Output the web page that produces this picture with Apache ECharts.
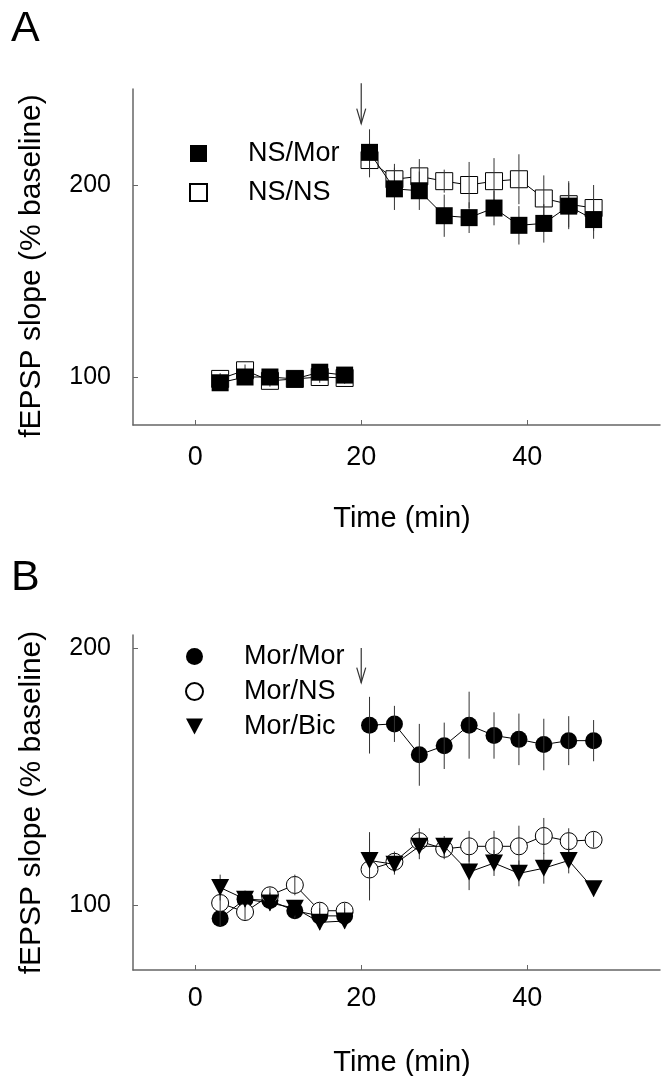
<!DOCTYPE html>
<html><head><meta charset="utf-8">
<script src="https://cdn.jsdelivr.net/npm/echarts@6/dist/echarts.min.js"></script>
<style>html,body{margin:0;padding:0;background:#fff}#c{width:666px;height:1076px}</style>
</head><body><div id="c"></div>
<script>
// ---- data ----
const timeA = [3,6,9,12,15,18,21,24,27,30,33,36,39,42,45,48];
const nsMor    = [97,100,100,99,102.5,101,217,198,197,184,183,188,179,180,189,182];
const nsMorErr = [3,3,3,3,3,3,12,11,10,11,8,9,10,10,12,10];
const nsNs     = [99,103.5,98,99,100,99.5,213,203,204.5,202,200,202,203,193,190,188];
const nsNsErr  = [3,3,3,3,3,3,9,8,9,6,12,12,13,12,12,12];

const timeB = [3,6,9,12,15,18,21,24,27,30,33,36,39,42,45,48];
const morMor    = [95,102.5,102,98,96,96,170,170.5,158.5,162,170,166,164.5,162.5,164,164];
const morMorErr = [3,3,3,3,3,3,11,7,12,9,13,9,10,10,9.5,8];
const morNs     = [101,97.5,104,108,98,98,114,117,125,122,123,123,123,127,125,125.5];
const morNsErr  = [4,3,3,4,3,3,12,4,5,4,6,6,8,7,5,3];
const morBic    = [107,102.5,101,99,93.5,94,117.5,116,123,123,113,116.5,112.5,114.5,117.5,106.5];
const morBicErr = [5,3,3,3,3,3,11,4,5,4,7,5,5,6,5,3];

const xTicks = [0,20,40];
const yTicks = [100,200];
const arrowX = [20];
const arrowA = [253, 232];   // top, tip
const arrowB = [200, 186.5];
const breakAfter = 18;       // no line between baseline and post-treatment

// ---- helpers ----
const FONT = 'Liberation Sans, Arial, Helvetica, sans-serif';
const downTri = 'path://M0,0 L10,0 L5,9.4 Z';

function pts(xs, ys){
  const out = [];
  xs.forEach((x,i)=>{
    out.push([x, ys[i]]);
    if (x === breakAfter) out.push([x+1.5, '-']);
  });
  return out;
}
function lineSeries(name, xs, ys, gi, symbol, filled, z){
  return {
    type:'line', name, xAxisIndex:gi, yAxisIndex:gi, z,
    data: pts(xs, ys), connectNulls:false,
    symbol, symbolSize: symbol==='circle'?17:(symbol==='rect'?17:[18,17]),
    showAllSymbol:true, animation:false,
    lineStyle:{color:'#000', width:1},
    itemStyle:{color: filled?'#000':'#fff', borderColor:'#000', borderWidth: filled?0:1},
    emphasis:{disabled:true}
  };
}
function errSeries(xs, ys, es, gi, z){
  return {
    type:'custom', xAxisIndex:gi, yAxisIndex:gi, z, silent:true, animation:false,
    data: xs.map((x,i)=>[x, ys[i], es[i]]),
    renderItem:(p, api)=>{
      const x=api.value(0), y=api.value(1), e=api.value(2);
      const a=api.coord([x,y-e]), b=api.coord([x,y+e]);
      return {type:'line', shape:{x1:a[0],y1:a[1],x2:b[0],y2:b[1]}, style:{stroke:'#333', lineWidth:1}};
    }
  };
}
function arrowSeries(top, tip, gi){
  return {
    type:'custom', xAxisIndex:gi, yAxisIndex:gi, z:10, silent:true, clip:false, animation:false,
    data: arrowX.map(x=>[x, top, tip]),
    renderItem:(p, api)=>{
      const x=api.value(0);
      const a=api.coord([x, api.value(1)]), b=api.coord([x, api.value(2)]);
      const st={stroke:'#333', lineWidth:1.2, fill:null};
      return {type:'group', children:[
        {type:'line', shape:{x1:a[0],y1:a[1],x2:b[0],y2:b[1]}, style:st},
        {type:'polyline', shape:{points:[[b[0]-4.5,b[1]-15],[b[0],b[1]],[b[0]+4.5,b[1]-15]]}, style:st}
      ]};
    }
  };
}
const axLine = {show:true, onZero:false, lineStyle:{color:'#666', width:1.5}};
function xAxisCfg(gi, gap, margin){
  return {type:'value', gridIndex:gi, min:-7.5, max:56,
    name:'Time (min)', nameLocation:'middle', nameGap:gap,
    nameTextStyle:{fontSize:29, color:'#000', fontFamily:FONT, padding:[0,0,0,11]},
    axisLine:axLine,
    axisTick:{show:true, inside:true, length:5, customValues:xTicks, lineStyle:{color:'#666'}},
    axisLabel:{show:true, customValues:xTicks, fontSize:27, color:'#000', fontFamily:FONT, margin},
    splitLine:{show:false}};
}
function yAxisCfg(gi, max, pad){
  return {type:'value', gridIndex:gi, min:75, max,
    name:'fEPSP slope (% baseline)', nameLocation:'middle', nameGap:86, nameRotate:90,
    nameTextStyle:{fontSize:30, color:'#000', fontFamily:FONT, padding:pad},
    axisLine:axLine,
    axisTick:{show:true, inside:true, length:5, customValues:yTicks, lineStyle:{color:'#666'}},
    axisLabel:{show:true, customValues:yTicks, fontSize:25, color:'#000', fontFamily:FONT, margin:22},
    splitLine:{show:false}};
}
const legendText = {fontSize:27, color:'#000', fontFamily:FONT, padding:[0,0,0,36]};

const chart = echarts.init(document.getElementById('c'), null, {renderer:'canvas'});
chart.setOption({
  backgroundColor:'#fff',
  animation:false,
  title:[
    {text:'A', left:6, top:3, textStyle:{fontSize:43, fontWeight:'normal', color:'#000', fontFamily:FONT}},
    {text:'B', left:6, top:552, textStyle:{fontSize:43, fontWeight:'normal', color:'#000', fontFamily:FONT}}
  ],
  grid:[
    {left:133, top:89, width:527, height:336, outerBoundsMode:'none'},
    {left:133, top:635, width:527, height:335, outerBoundsMode:'none'}
  ],
  xAxis:[xAxisCfg(0, 79, 19), xAxisCfg(1, 78, 15)],
  yAxis:[yAxisCfg(0, 250, [0,18,0,0]), yAxisCfg(1, 205, [0,0,0,0])],
  legend:[
    {orient:'vertical', left:184, top:135, itemWidth:17, itemHeight:17, itemGap:12,
     selectedMode:false, textStyle:legendText,
     data:[{name:'NS/Mor', icon:'rect'},{name:'NS/NS', icon:'rect'}]},
    {orient:'vertical', left:180, top:638, itemWidth:17, itemHeight:17, itemGap:8,
     selectedMode:false, textStyle:legendText,
     data:[{name:'Mor/Mor', icon:'circle'},{name:'Mor/NS', icon:'circle'},{name:'Mor/Bic', icon:downTri}]}
  ],
  series:[
    lineSeries('NS/NS', timeA, nsNs, 0, 'rect', false, 2),
    errSeries(timeA, nsNs, nsNsErr, 0, 3),
    errSeries(timeA, nsMor, nsMorErr, 0, 3),
    lineSeries('NS/Mor', timeA, nsMor, 0, 'rect', true, 4),
    arrowSeries(arrowA[0], arrowA[1], 0),

    lineSeries('Mor/Mor', timeB, morMor, 1, 'circle', true, 2),
    lineSeries('Mor/NS', timeB, morNs, 1, 'circle', false, 3),
    errSeries(timeB, morMor, morMorErr, 1, 4),
    errSeries(timeB, morNs, morNsErr, 1, 4),
    errSeries(timeB, morBic, morBicErr, 1, 4),
    lineSeries('Mor/Bic', timeB, morBic, 1, downTri, true, 5),
    arrowSeries(arrowB[0], arrowB[1], 1)
  ]
});
</script></body></html>
